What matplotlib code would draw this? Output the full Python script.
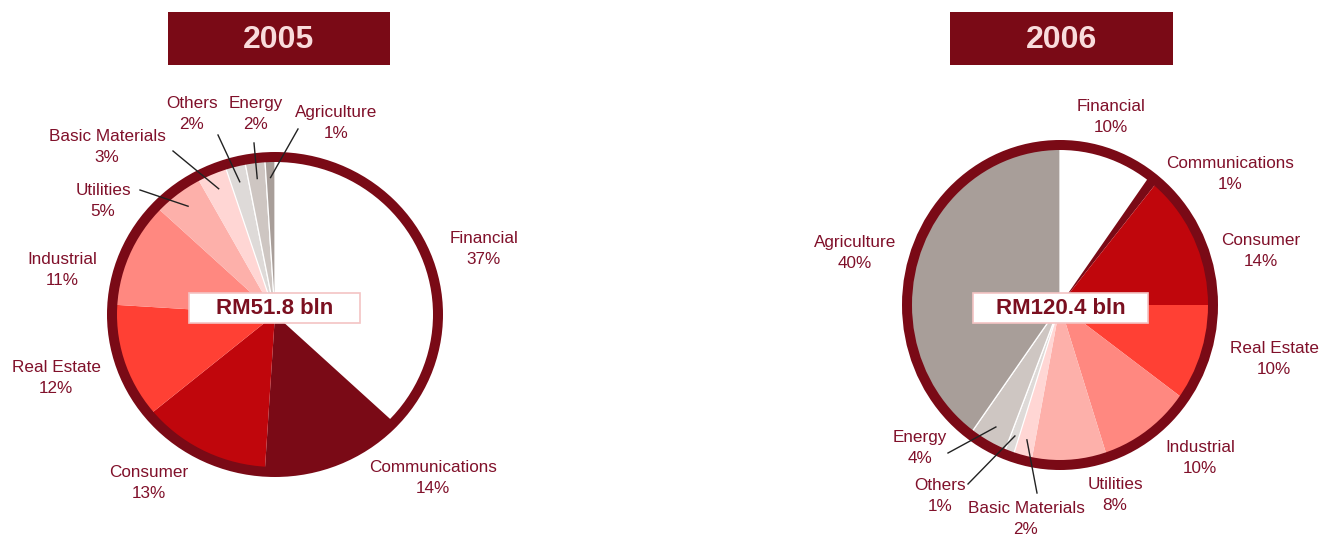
import numpy as np
from matplotlib import pyplot as plt
from matplotlib.patches import Rectangle, Circle

plt.rcParams['font.family'] = ['Liberation Sans', 'DejaVu Sans']

# dati
sectors = ['Financial', 'Communications', 'Consumer', 'Real Estate', 'Industrial',
           'Utilities', 'Basic Materials', 'Others', 'Energy', 'Agriculture']
share_2005 = [37, 14, 13, 12, 11, 5, 3, 2, 2, 1]
share_2006 = [10, 1, 14, 10, 10, 8, 2, 1, 4, 40]
years = ['2005', '2006']
totals = [51.8, 120.4]

colors = ['#FFFFFF', '#7A0A16', '#C0060C', '#FF4034', '#FF8880',
          '#FDB0AA', '#FFD6D4', '#DEDAD8', '#CEC6C2', '#A89E99']
grey_sectors = ['Others', 'Energy', 'Agriculture']

DARK = '#7A0A16'
TXT = '#80102A'
W, H = 1332, 538

# layout in pixel dell'immagine (x, y dall'alto)
pies = [
    dict(ax_x0=0, cx=275, cy=314.5, rx=163, ry=157.5,
         title_box=(168, 12, 390, 65), center_box=(189, 293, 360, 323),
         labels={'Financial': (484, 249), 'Communications': (433, 478), 'Consumer': (149, 483),
                 'Real Estate': (56, 378), 'Industrial': (62, 270), 'Utilities': (103, 201),
                 'Basic Materials': (107, 147), 'Others': (192, 114), 'Energy': (256, 114),
                 'Agriculture': (336, 123)},
         leaders={'Utilities': (140, 190), 'Basic Materials': (173, 151), 'Others': (218, 135),
                  'Energy': (254, 143), 'Agriculture': (298, 129)}),
    dict(ax_x0=666, cx=1060, cy=305, rx=153, ry=160,
         title_box=(950, 12, 1173, 65), center_box=(973, 293, 1148, 323),
         labels={'Financial': (1111, 117), 'Communications': (1230, 174), 'Consumer': (1261, 251),
                 'Real Estate': (1274, 359), 'Industrial': (1200, 458), 'Utilities': (1115, 495),
                 'Basic Materials': (1026, 519), 'Others': (940, 496), 'Energy': (920, 448),
                 'Agriculture': (855, 253)},
         leaders={'Energy': (948, 453), 'Others': (968, 484), 'Basic Materials': (1037, 493)}),
]

fig = plt.figure(figsize=(W / 100, H / 100), dpi=100)


def fig_px(x, y):
    return x / W, 1 - y / H


for i, (shares, p) in enumerate(zip([share_2005, share_2006], pies)):
    ax = fig.add_axes([p['ax_x0'] / W, 0, 666 / W, 1])
    wedges, _ = ax.pie(shares, colors=colors, startangle=90, counterclock=False,
                       radius=1, wedgeprops=dict(linewidth=0))
    for w, name in zip(wedges, sectors):
        if name in grey_sectors:
            w.set_edgecolor('white')
            w.set_linewidth(0.9)
    ax.add_patch(Circle((0, 0), 1, fill=False, edgecolor=DARK, linewidth=7.2, zorder=5))

    cx_loc = p['cx'] - p['ax_x0']
    ax.set_aspect('auto')
    ax.set_xlim(-cx_loc / p['rx'], (666 - cx_loc) / p['rx'])
    ax.set_ylim((p['cy'] - H) / p['ry'], p['cy'] / p['ry'])
    ax.axis('off')

    def to_data(x, y):
        return (x - p['cx']) / p['rx'], (p['cy'] - y) / p['ry']

    # etichette e linee guida
    for w, name, val in zip(wedges, sectors, shares):
        tx, ty = to_data(*p['labels'][name])
        ax.text(tx, ty, f"{name}\n{val}%", ha='center', va='center', ma='center',
                fontsize=12.3, color=TXT, linespacing=1.55)
        if name in p['leaders']:
            th = np.deg2rad((w.theta1 + w.theta2) / 2)
            lx, ly = to_data(*p['leaders'][name])
            ax.plot([lx, 0.87 * np.cos(th)], [ly, 0.87 * np.sin(th)],
                    color='#222222', linewidth=1.0, zorder=6)

    # riquadro titolo
    x0, y0, x1, y1 = p['title_box']
    fx0, fy1 = fig_px(x0, y1)
    fig.add_artist(Rectangle((fx0, fy1), (x1 - x0) / W, (y1 - y0) / H,
                             transform=fig.transFigure, facecolor=DARK, edgecolor='none'))
    fig.text(*fig_px((x0 + x1) / 2, (y0 + y1) / 2 + 1), years[i], ha='center', va='center',
             fontsize=23, fontweight='bold', color='#F9DCDC')

    # riquadro totale
    x0, y0, x1, y1 = p['center_box']
    fx0, fy1 = fig_px(x0, y1)
    fig.add_artist(Rectangle((fx0, fy1), (x1 - x0) / W, (y1 - y0) / H,
                             transform=fig.transFigure, facecolor='white',
                             edgecolor='#F4C4C4', linewidth=1.2, zorder=7))
    fig.text(*fig_px((x0 + x1) / 2, (y0 + y1) / 2 + 1), f"RM{totals[i]} bln", ha='center',
             va='center', fontsize=16, fontweight='bold', color='#7B1020', zorder=8)

plt.savefig('out.png', dpi=100)
